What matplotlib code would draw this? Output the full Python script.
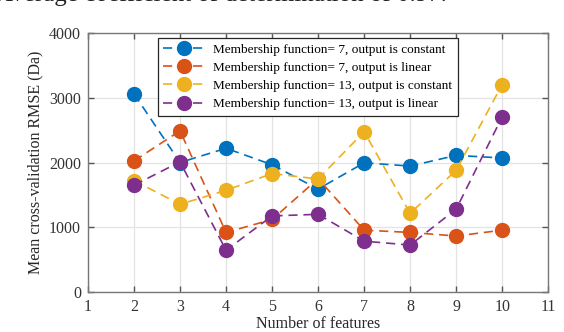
import matplotlib
matplotlib.use('Agg')
import matplotlib.pyplot as plt

plt.rcParams['font.family'] = ['Liberation Serif', 'DejaVu Serif']

# data
features = [2, 3, 4, 5, 6, 7, 8, 9, 10]
mf7_const = [3060, 2000, 2220, 1965, 1590, 1995, 1945, 2110, 2070]
mf7_linear = [2025, 2490, 920, 1120, 1750, 955, 920, 865, 955]
mf13_const = [1720, 1355, 1570, 1830, 1745, 2475, 1215, 1880, 3205]
mf13_linear = [1650, 2010, 645, 1175, 1200, 785, 725, 1280, 2705]

labels = ['Membership function= 7, output is constant',
          'Membership function= 7, output is linear',
          'Membership function= 13, output is constant',
          'Membership function= 13, output is linear']
colors = ['#0072BD', '#D95319', '#EDB120', '#7E2F8E']

fig = plt.figure(figsize=(5.64, 3.32), dpi=100)
ax = fig.add_axes([0.156, 0.1205, 0.816, 0.78])

for ys, lab, c in zip([mf7_const, mf7_linear, mf13_const, mf13_linear], labels, colors):
    ax.plot(features, ys, linestyle=(0, (5.5, 3.5)), color=c, lw=1.2,
            marker='o', markersize=10, markerfacecolor=c, markeredgecolor=c,
            label=lab)

ax.set_xlim(1, 11)
ax.set_ylim(0, 4000)
ax.set_xticks(range(1, 12))
ax.set_yticks([0, 1000, 2000, 3000, 4000])
ax.grid(True, color='#e3e3e3', lw=0.9)
ax.set_axisbelow(True)
ax.tick_params(direction='in', length=4, width=1, color='#555555',
               labelsize=11.5, labelcolor='#333333', top=True, right=True, pad=5)
for s in ax.spines.values():
    s.set_color('#777777')
    s.set_linewidth(1.0)

ax.set_xlabel('Number of features', fontsize=11.5, color='#262626', labelpad=1)
ax.set_ylabel('Mean cross-validation RMSE (Da)', fontsize=11.5, color='#262626', labelpad=4)

leg = ax.legend(loc='upper left', bbox_to_anchor=(0.152, 0.98), borderaxespad=0,
                fontsize=9.5, handlelength=3.2, fancybox=False, framealpha=1,
                edgecolor='#262626', labelspacing=0.45, borderpad=0.4, handletextpad=0.6)
leg.get_frame().set_linewidth(0.9)

# title of the page, mostly cropped away at the top
fig.text(-0.008, 1 - 1.5 / 332, 'Average coefficient of determination of 0.97.',
         fontsize=18, va='baseline', ha='left', color='#222222')

fig.savefig('out.png', dpi=100)
